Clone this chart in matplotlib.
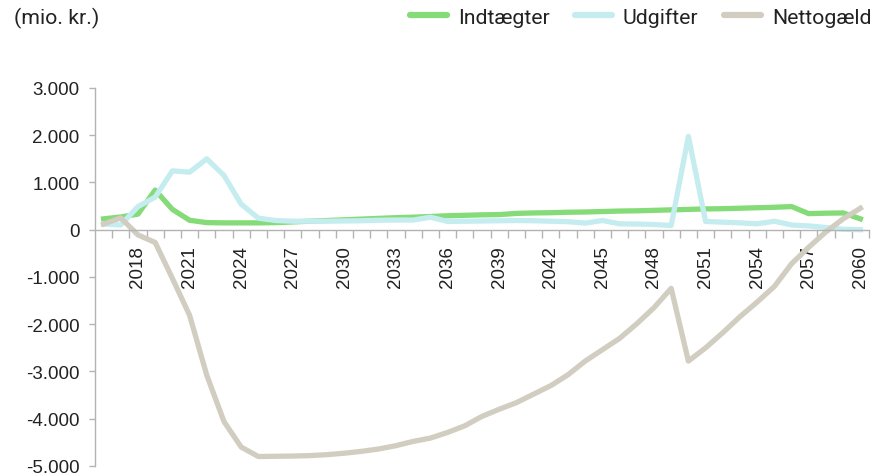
import matplotlib
matplotlib.use("Agg")
import matplotlib.pyplot as plt
from matplotlib.ticker import FuncFormatter, FixedLocator

years = list(range(2016, 2061))

indtaegter = [230, 270, 330, 840, 430, 200, 150, 145, 145, 145,
              150, 165, 180, 195, 210, 225, 240, 255, 265, 280,
              295, 305, 315, 320, 345, 355, 360, 370, 375, 385,
              395, 400, 410, 420, 430, 440, 445, 455, 465, 475,
              490, 340, 350, 355, 230]

udgifter = [120, 100, 490, 690, 1245, 1218, 1500, 1148, 540, 244,
            195, 180, 180, 180, 185, 190, 200, 205, 205, 265,
            175, 180, 185, 190, 195, 190, 180, 170, 140, 195,
            125, 120, 110, 90, 1975, 175, 160, 145, 125, 180,
            100, 80, 47, 10, 0]

nettogaeld = [120, 250, -110, -270, -1030, -1810, -3080, -4060, -4600, -4800,
              -4795, -4790, -4780, -4760, -4730, -4690, -4640, -4570, -4480, -4410,
              -4290, -4150, -3950, -3800, -3660, -3480, -3300, -3070, -2780, -2540,
              -2300, -1990, -1650, -1240, -2780, -2500, -2180, -1840, -1530, -1200,
              -720, -370, -44, 230, 455]

series_names = ["Indtægter", "Udgifter", "Nettogæld"]
colors = ["#85DB77", "#C5EDF0", "#D1CDC0"]
y_ticks = [3000, 2000, 1000, 0, -1000, -2000, -3000, -4000, -5000]
label_years = years[2::3]

fig = plt.figure(figsize=(8.73, 4.77), dpi=100)
ax = fig.add_axes([0.1088, 0.021, 0.8866, 0.7925])

x = list(range(len(years)))
lines = []
for vals, name, c in zip([indtaegter, udgifter, nettogaeld], series_names, colors):
    ln, = ax.plot(x, vals, color=c, lw=3.8, solid_joinstyle="round", label=name)
    lines.append(ln)

ax.set_xlim(-0.5, len(years) - 0.5)
ax.set_ylim(-5000, 3000)

for s in ["top", "right"]:
    ax.spines[s].set_visible(False)
ax.spines["bottom"].set_position(("data", 0))
for s in ["bottom", "left"]:
    ax.spines[s].set_color("#b3b3b3")
    ax.spines[s].set_linewidth(1.0)

# x ticks: labels at every 3rd year, tick marks at category boundaries
ax.set_xticks([years.index(y) for y in label_years])
ax.set_xticklabels([str(y) for y in label_years], rotation=90,
                   fontfamily="Liberation Sans", fontsize=13.5, color="#222222")
ax.tick_params(axis="x", which="major", length=0, pad=11)
ax.xaxis.set_minor_locator(FixedLocator([i + 0.5 for i in range(len(years))]))
ax.tick_params(axis="x", which="minor", length=6, width=1.0, color="#b3b3b3", direction="out")

ax.set_yticks(y_ticks)
ax.yaxis.set_major_formatter(FuncFormatter(lambda v, p: f"{int(v):,}".replace(",", ".")))
ax.tick_params(axis="y", length=4, width=1.0, color="#b3b3b3", pad=7)
for lab in ax.get_yticklabels():
    lab.set_fontfamily("Liberation Sans")
    lab.set_fontsize(13.5)
    lab.set_color("#222222")

fig.text(0.016, 0.962, "(mio. kr.)", fontfamily="Roboto", fontsize=15.3,
         color="#222222", va="center", ha="left")

leg = fig.legend(handles=lines, loc="center right", bbox_to_anchor=(0.998, 0.962),
                 ncol=3, frameon=False, prop={"family": "Roboto", "size": 15.3},
                 handlelength=1.75, handletextpad=0.5, columnspacing=1.2,
                 borderpad=0, borderaxespad=0)
for t in leg.get_texts():
    t.set_color("#222222")
for h in leg.legend_handles:
    h.set_linewidth(4.5)
    h.set_solid_capstyle("round")

fig.savefig("out.png", dpi=100)
